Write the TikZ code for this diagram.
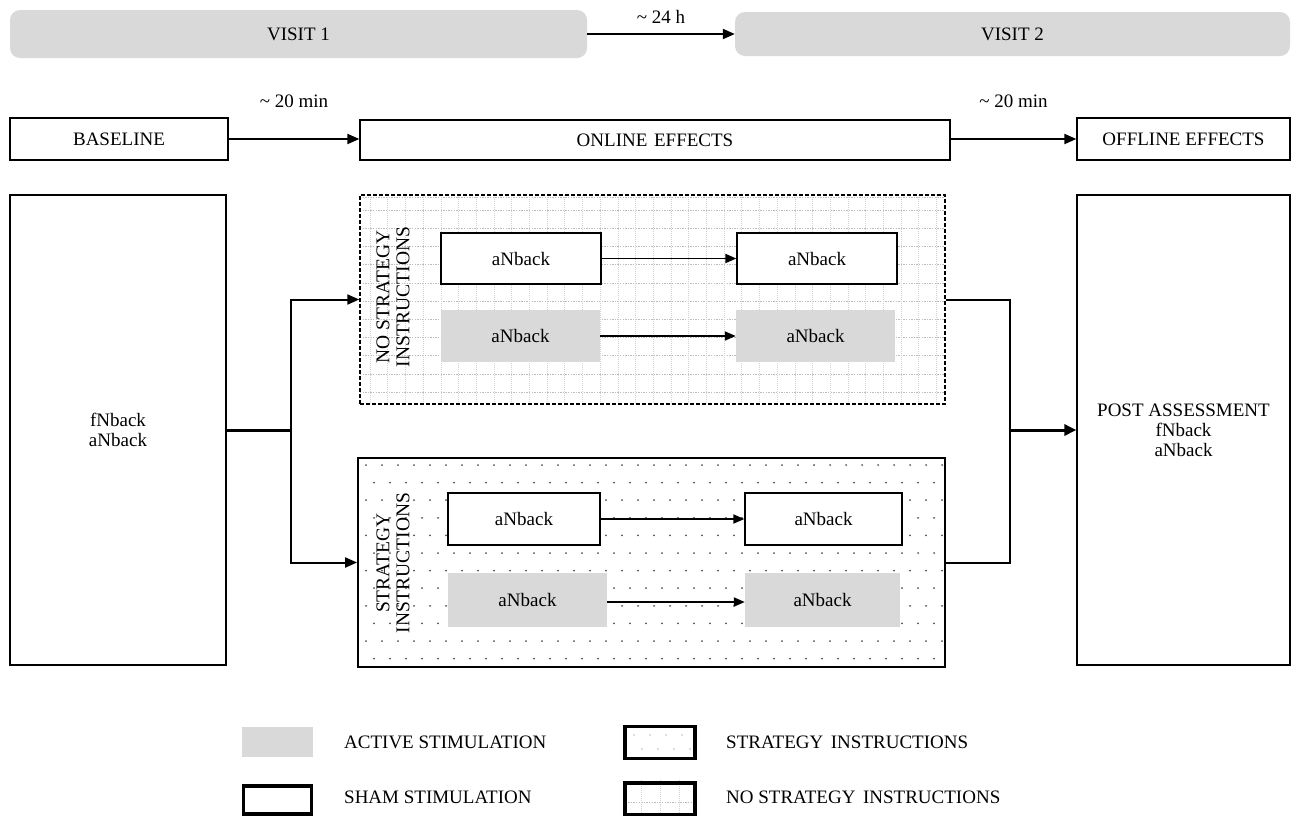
\documentclass[tikz,border=0pt]{standalone}
\usepackage{fontspec}
\setmainfont{Liberation Serif}
\usetikzlibrary{arrows.meta,calc}
\definecolor{boxgray}{HTML}{D9D9D9}
\definecolor{gridc}{HTML}{BDBDBD}
\definecolor{dotc}{HTML}{505050}
\tikzset{
  txt/.style={font=\fontsize{19}{20}\selectfont},
  visit/.style={txt, fill=boxgray, rounded corners=10pt, inner sep=0pt},
  stagebox/.style={txt, draw, line width=1.3pt, inner sep=0pt},
  bigbox/.style={txt, draw, line width=1.3pt, inner sep=0pt, align=center},
  whitebox/.style={txt, draw, fill=white, line width=1.3pt, inner sep=0pt},
  graybox/.style={txt, fill=boxgray, inner sep=0pt},
  sidelabel/.style={font=\fontsize{19.5}{20}\selectfont, rotate=90, align=center, inner sep=0pt},
  arr/.style={line width=2pt, -{Triangle[length=12pt,width=10pt]}},
  thinarr/.style={line width=1.8pt, -{Triangle[length=11pt,width=9pt]}},
  conn/.style={line width=2pt},
  gridl/.style={gridc, line width=0.6pt, dash pattern=on 1.3pt off 1.3pt},
  gridv/.style={gridc!70, line width=0.6pt, dash pattern=on 1pt off 1pt},
  legtxt/.style={txt, anchor=west, inner sep=0pt},
}
\begin{document}
\begin{tikzpicture}[x=1pt,y=-1pt]
\useasboundingbox (0,0) rectangle (1295,815);

% --- top: visits
\node[visit, minimum width=577, minimum height=48] (v1) at (298.5,34) {VISIT 1};
\node[visit, minimum width=555, minimum height=44] (v2) at (1012.5,34) {VISIT 2};
\draw[arr] (v1) -- (v2) node[midway, txt, yshift=17pt] {\textasciitilde{} 24 h};

% --- stages
\node[stagebox, minimum width=218, minimum height=42] (base) at (119,139) {BASELINE};
\node[stagebox, minimum width=590, minimum height=40] (online) at (655,140) {ONLINE\hspace{0.35em}EFFECTS};
\node[stagebox, minimum width=213, minimum height=42] (offline) at (1183.5,139) {OFFLINE\hspace{0.25em}EFFECTS};
\draw[arr] (base.east |- 0,139) -- (online.west |- 0,139) node[midway, txt, yshift=38pt] {\textasciitilde{} 20 min};
\draw[arr] (online.east |- 0,139) -- (offline.west |- 0,139) node[midway, txt, yshift=38pt] {\textasciitilde{} 20 min};

% --- side boxes
\node[bigbox, minimum width=216, minimum height=470] (pre) at (118,430) {fNback\\aNback};
\node[bigbox, minimum width=213, minimum height=470] (post) at (1183.5,430) {POST ASSESSMENT\\fNback\\aNback};

% --- pattern of upper panel (grid)
\begin{scope}
  \clip (360,195) rectangle (945,404);
  \foreach \yy in {210,228.2,...,404}{
    \draw[gridl] (360,\yy) -- (945,\yy);
  }
  \draw[gridl] (360,197) -- (945,197);
  \foreach \xx in {370,387.7,...,945}{
    \draw[gridv] (\xx,195) -- (\xx,404);
  }
\end{scope}
% --- pattern of lower panel (dots)
\begin{scope}
  \clip (358,458) rectangle (945,667);
  \foreach \i in {0,...,11}{
    \pgfmathsetmacro{\yy}{465+17.6*\i}
    \pgfmathsetmacro{\xo}{366+8*mod(\i,2)}
    \foreach \k in {0,...,37}{
      \fill[dotc] ({\xo+16*\k},\yy) circle (1);
    }
  }
\end{scope}

\node[draw, dash pattern=on 4pt off 2pt, line width=1.4pt, minimum width=585, minimum height=209, inner sep=0pt] (up) at (652.5,299.5) {};
\node[draw, line width=1.8pt, minimum width=587, minimum height=209, inner sep=0pt] (low) at (651.5,562.5) {};

\node[sidelabel] (upl) at (393,297) {NO STRATEGY\\INSTRUCTIONS};
\node[sidelabel] (lowl) at (393,563) {STRATEGY\\INSTRUCTIONS};

% --- inner boxes upper
\node[whitebox, minimum width=160, minimum height=51] (u1) at (521,258.5) {aNback};
\node[whitebox, minimum width=160, minimum height=51] (u2) at (817,258.5) {aNback};
\node[graybox, minimum width=159, minimum height=52] (u3) at (520.5,336) {aNback};
\node[graybox, minimum width=159, minimum height=52] (u4) at (815.5,336) {aNback};
\draw[thinarr] (u1) -- (u2);
\draw[thinarr] (u3) -- (u4);

% --- inner boxes lower
\node[whitebox, minimum width=152, minimum height=52] (l1) at (524,519) {aNback};
\node[whitebox, minimum width=157, minimum height=52] (l2) at (823.5,519) {aNback};
\node[graybox, minimum width=159, minimum height=54] (l3) at (527.5,600) {aNback};
\node[graybox, minimum width=155, minimum height=54] (l4) at (822.5,600) {aNback};
\draw[thinarr] (l1) -- (l2);
\draw[thinarr] (l3.east |- 0,602) -- (l4.west |- 0,602);

% --- connectors
\coordinate (jl) at (291,430);
\coordinate (jr) at (1010,430);
\draw[line width=3pt] (pre.east) -- (jl);
\draw[arr] (jl) |- (up.west);
\draw[arr] (jl) |- (low.west);
\draw[conn] (up.east) -| (jr) |- (low.east);
\draw[line width=3pt, -{Triangle[length=12pt,width=11pt]}] (jr) -- (post.west);

% --- legend
\node[fill=boxgray, minimum width=71, minimum height=30, inner sep=0pt] (lgA) at (277.5,742) {};
\node[legtxt] (lgAt) at (344,742) {ACTIVE STIMULATION};
\node[draw, line width=3.5pt, minimum width=68, minimum height=28, inner sep=0pt] (lgB) at (277.5,800) {};
\node[legtxt] (lgBt) at (344,797) {SHAM STIMULATION};

\begin{scope}
  \clip (623,725) rectangle (697,760);
  \foreach \i in {0,1}{
    \pgfmathsetmacro{\yy}{735+14*\i}
    \pgfmathsetmacro{\xo}{634+8*mod(\i,2)}
    \foreach \k in {0,...,4}{
      \fill[gridc] ({\xo+16*\k},\yy) circle (0.9);
    }
  }
\end{scope}
\node[draw, line width=3.5pt, minimum width=70, minimum height=32, inner sep=0pt] (lgC) at (660,742.5) {};
\node[legtxt] (lgCt) at (726,742) {STRATEGY\hspace{0.4em}INSTRUCTIONS};

\begin{scope}
  \clip (623,780) rectangle (697,815);
  \draw[gridl] (623,802) -- (697,802);
  \foreach \xx in {641,660,679}{
    \draw[gridv] (\xx,780) -- (\xx,815);
  }
\end{scope}
\node[draw, line width=3.5pt, minimum width=70, minimum height=32, inner sep=0pt] (lgD) at (660,799) {};
\node[legtxt] (lgDt) at (726,797) {NO STRATEGY\hspace{0.4em}INSTRUCTIONS};
\end{tikzpicture}
\end{document}
